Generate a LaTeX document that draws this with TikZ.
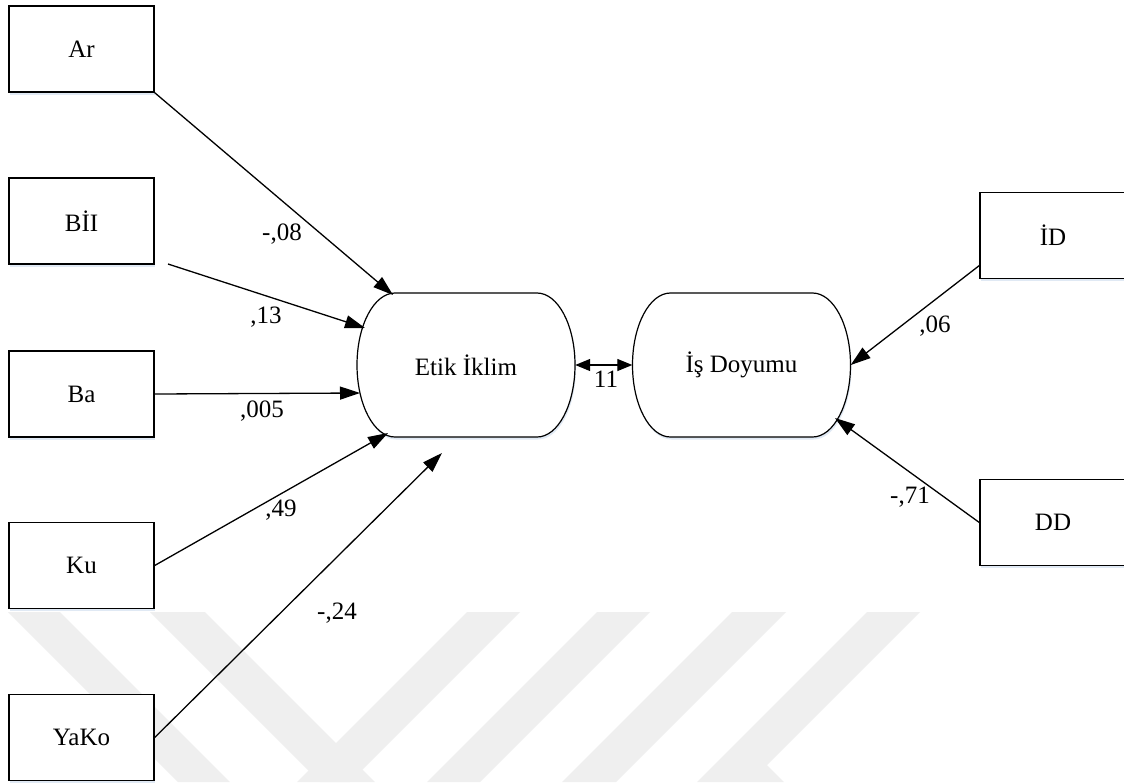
\documentclass[tikz,border=0pt]{standalone}
\usepackage{fontspec}
\setmainfont{Liberation Serif}
\usetikzlibrary{arrows.meta,shadows}
\definecolor{wm}{HTML}{EFEFEF}
\definecolor{shd}{HTML}{D3E0F0}
\begin{document}
\begin{tikzpicture}[x=1pt,y=1pt,
  box/.style={draw, line width=1.4pt, fill=white, minimum width=145pt, minimum height=86pt, inner sep=0pt,
    font=\fontsize{25}{29}\selectfont,
    drop shadow={shadow xshift=1pt, shadow yshift=-2.5pt, fill=shd, opacity=0.7}},
  latent/.style={minimum width=218pt, minimum height=144pt, inner sep=0pt, font=\fontsize{25}{29}\selectfont},
  lat/.style={draw, line width=1.2pt, fill=white,
    drop shadow={shadow xshift=1pt, shadow yshift=-2.5pt, fill=shd, opacity=0.7}},
  conn/.style={line width=1.3pt, -{Triangle[length=20pt,width=13pt]}},
  dbl/.style={line width=1.3pt, {Triangle[length=15pt,width=12pt]}-{Triangle[length=15pt,width=12pt]}},
  lbl/.style={font=\fontsize{25}{29}\selectfont, inner sep=0pt, anchor=base},
  wmark/.style={fill=wm, draw=none}
]
\useasboundingbox (0,0) rectangle (1124,-782);
\fill[white] (0,0) rectangle (1124,-782);
% watermark
\fill[wmark] (8,-612) -- (60,-612) -- (230,-782) -- (178,-782) -- cycle;
\fill[wmark] (150,-612) -- (205,-612) -- (375,-782) -- (320,-782) -- cycle;
\fill[wmark] (467,-612) -- (520,-612) -- (350,-782) -- (297,-782) -- cycle;
\fill[wmark] (597,-612) -- (650,-612) -- (480,-782) -- (427,-782) -- cycle;
\fill[wmark] (732,-612) -- (786,-612) -- (616,-782) -- (562,-782) -- cycle;
\fill[wmark] (867,-612) -- (920,-612) -- (767,-765) -- (784,-782) -- (697,-782) -- cycle;

% observed variables
\node[box] (ar)   at (81.5,-49)   {Ar};
\node[box] (bii)  at (81.5,-221)  {BİI};
\node[box] (ba)   at (81.5,-394)  {Ba};
\node[box] (ku)   at (81.5,-565.5){Ku};
\node[box] (yako) at (81.5,-737.5){YaKo};
\node[box, minimum width=146pt] (id) at (1053,-235.5) {İD};
\node[box, minimum width=146pt] (dd) at (1053,-522.5) {DD};

% latent variables
\coordinate (ec) at (466,-365);
\coordinate (ic) at (741.5,-365);
\draw[lat] ([shift={(-71,72)}]ec) -- ([shift={(71,72)}]ec)
  arc[start angle=90, end angle=-90, x radius=38pt, y radius=72pt]
  -- ([shift={(-71,-72)}]ec)
  arc[start angle=270, end angle=90, x radius=38pt, y radius=72pt] -- cycle;
\draw[lat] ([shift={(-71,72)}]ic) -- ([shift={(71,72)}]ic)
  arc[start angle=90, end angle=-90, x radius=38pt, y radius=72pt]
  -- ([shift={(-71,-72)}]ic)
  arc[start angle=270, end angle=90, x radius=38pt, y radius=72pt] -- cycle;
\node[latent] (etik) at (ec) {Etik İklim};
\node[latent] (isd) at (ic) {İş Doyumu};

% connector end points
\coordinate (s2) at (168,-264);
\coordinate (t1) at (393,-295);
\coordinate (t2) at (365,-328);
\coordinate (t3) at (360,-393);
\coordinate (t4) at (388,-433);
\coordinate (t5) at (442,-453);
\coordinate (s6) at (980,-265);
\coordinate (t7) at (835,-418);

\draw[conn] (ar.south east) -- (t1);
\draw[conn] (s2) -- (t2);
\draw[conn] (ba.east) -- (t3);
\draw[conn] (ku.east) -- (t4);
\draw[conn] (yako.east) -- (t5);
\draw[conn] (s6) -- (isd.east);
\draw[conn] (dd.west) -- (t7);
\draw[dbl] (etik.east) -- (isd.west);

% labels
\node[lbl] (l1) at (282,-240) {-,08};
\node[lbl] (l2) at (266,-323) {,13};
\node[lbl] (l3) at (262,-417) {,005};
\node[lbl] (l4) at (281,-516) {,49};
\node[lbl] (l5) at (337,-619) {-,24};
\node[lbl] (l6) at (935,-332) {,06};
\node[lbl] (l7) at (910,-503) {-,71};
\node[lbl] (l8) at (606,-387) {11};
\end{tikzpicture}
\end{document}
